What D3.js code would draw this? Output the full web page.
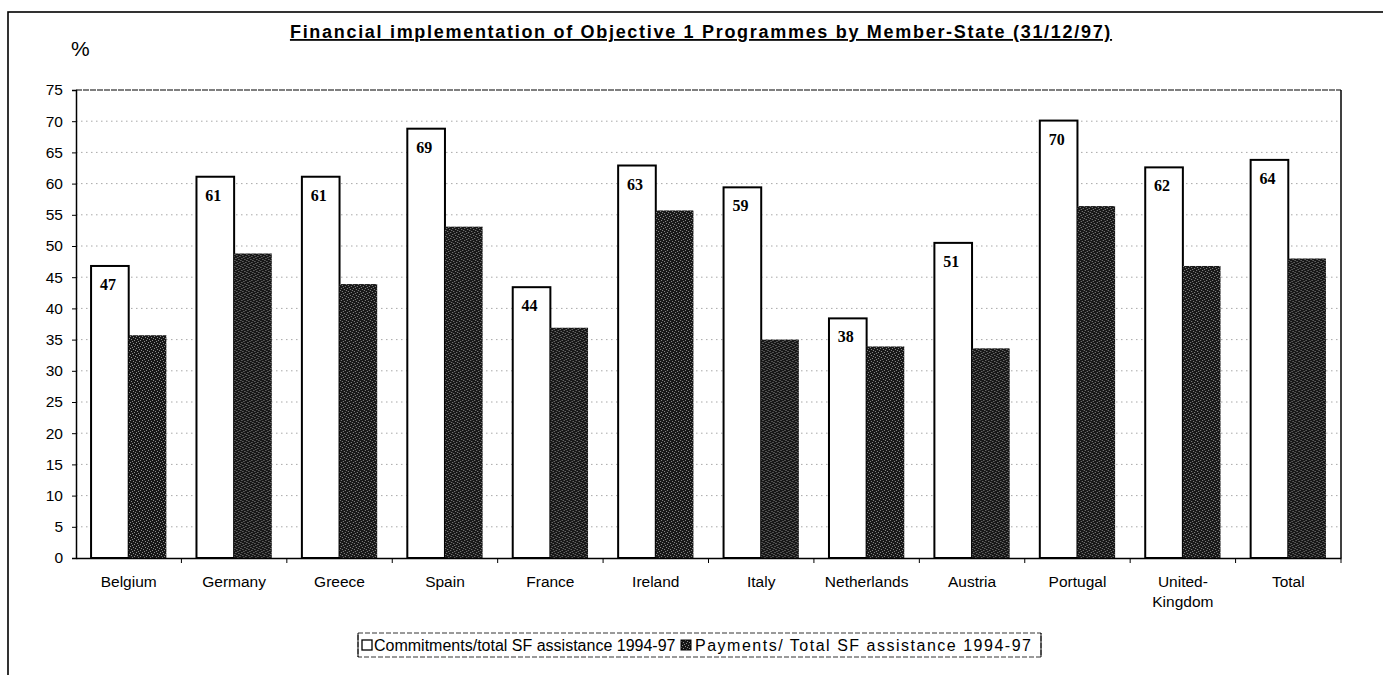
<!DOCTYPE html>
<html>
<head>
<meta charset="utf-8">
<script src="https://cdn.jsdelivr.net/npm/d3@7"></script>
<style>
  body { margin: 0; background: #fff; }
  svg { display: block; font-family: "Liberation Sans", Arial, sans-serif; }
  .grid line { stroke: #a8a8a8; stroke-width: 1; stroke-dasharray: 1.5,3.5; }
  .axis text { font-size: 15.5px; fill: #000; }
  .axis path, .axis line { stroke: #000; }
</style>
</head>
<body>
<div id="chart"></div>
<script>
/* data */
var countries = ["Belgium","Germany","Greece","Spain","France","Ireland","Italy","Netherlands","Austria","Portugal","United-Kingdom","Total"];
var commitments = [46.8, 61.1, 61.1, 68.8, 43.4, 62.9, 59.4, 38.4, 50.5, 70.1, 62.6, 63.8];
var commitLabels = ["47","61","61","69","44","63","59","38","51","70","62","64"];
var payments = [35.7, 48.8, 43.9, 53.1, 36.9, 55.7, 35.0, 33.9, 33.6, 56.4, 46.8, 48.0];
var yTicks = d3.range(0, 80, 5);
var seriesNames = ["Commitments/total SF assistance 1994-97", "Payments/ Total SF assistance 1994-97"];

var width = 1383, height = 675;
var plotLeft = 76, plotRight = 1341, plotTop = 90, plotBottom = 558;

var svg = d3.select("#chart").append("svg")
	.attr("width", width).attr("height", height);

/* speckled texture for the payments bars */
var defs = svg.append("defs");
var pat = defs.append("pattern")
	.attr("id", "speckle").attr("patternUnits", "userSpaceOnUse")
	.attr("width", 6).attr("height", 6);
pat.append("rect").attr("width", 6).attr("height", 6).attr("fill", "#171717");
[[0,0],[3,1],[1,3],[4,4],[5,2],[2,5]].forEach(function(p){
	pat.append("rect").attr("x", p[0]).attr("y", p[1]).attr("width", 1).attr("height", 1).attr("fill", "#8c8c8c");
});

/* outer frame */
svg.append("rect")
	.attr("x", 8).attr("y", 12).attr("width", 1400).attr("height", 700)
	.attr("fill", "none").attr("stroke", "#000").attr("stroke-width", 1.6);

var x0 = d3.scaleBand().domain(countries).range([plotLeft, plotRight]).padding(0);
var x1 = d3.scaleBand().domain([0, 1]).range([0, x0.bandwidth()]).paddingInner(0).paddingOuter(0.4);
var y = d3.scaleLinear().domain([0, 75]).range([plotBottom, plotTop]);

/* gridlines */
svg.append("g").attr("class", "grid")
	.selectAll("line").data(yTicks.filter(function(d){ return d > 0 && d < 75; }))
	.enter().append("line")
	.attr("x1", plotLeft).attr("x2", plotRight)
	.attr("y1", function(d){ return y(d); }).attr("y2", function(d){ return y(d); });

/* plot frame */
svg.append("line").attr("x1", plotLeft).attr("x2", plotRight).attr("y1", plotTop).attr("y2", plotTop)
	.attr("stroke", "#000").attr("stroke-width", 1.2).attr("stroke-dasharray", "6,1");
svg.append("line").attr("x1", plotRight).attr("x2", plotRight).attr("y1", plotTop).attr("y2", plotBottom)
	.attr("stroke", "#000").attr("stroke-width", 1.5);

/* bars */
var groups = svg.append("g").selectAll("g").data(countries).enter().append("g")
	.attr("transform", function(d){ return "translate(" + x0(d) + ",0)"; });

groups.append("rect")
	.attr("x", x1(0)).attr("width", x1.bandwidth())
	.attr("y", function(d, i){ return y(commitments[i]); })
	.attr("height", function(d, i){ return plotBottom - y(commitments[i]); })
	.attr("fill", "#fff").attr("stroke", "#000").attr("stroke-width", 2);

groups.append("rect")
	.attr("x", x1(1)).attr("width", x1.bandwidth())
	.attr("y", function(d, i){ return y(payments[i]); })
	.attr("height", function(d, i){ return plotBottom - y(payments[i]); })
	.attr("fill", "url(#speckle)");

groups.append("text")
	.attr("x", x1(0) + x1.bandwidth() / 2 - 2)
	.attr("y", function(d, i){ return y(commitments[i]) + 24; })
	.attr("text-anchor", "middle")
	.style("font-family", "'Liberation Serif', 'Times New Roman', serif")
	.style("font-weight", "bold").style("font-size", "16px")
	.text(function(d, i){ return commitLabels[i]; });

/* axes */
var yAxis = svg.append("g").attr("class", "axis")
	.attr("transform", "translate(" + plotLeft + ",0)")
	.call(d3.axisLeft(y).tickValues(yTicks).tickSize(4).tickPadding(9));
yAxis.select(".domain").attr("stroke-width", 1.5);

var xAxis = svg.append("g").attr("class", "axis")
	.attr("transform", "translate(0," + plotBottom + ")")
	.call(d3.axisBottom(x0).tickSize(0).tickPadding(18));
xAxis.select(".domain").attr("stroke-width", 1.5);
xAxis.selectAll(".tick text").style("font-size", "15.5px").each(function(d){
	var t = d3.select(this);
	if (d === "United-Kingdom") {
		t.text(null);
		t.append("tspan").attr("x", 0).attr("dy", "0.71em").text("United-");
		t.append("tspan").attr("x", 0).attr("dy", "1.3em").text("Kingdom");
		t.attr("dy", null);
	}
});
/* category separators on the x axis */
svg.append("g").selectAll("line").data(countries)
	.enter().append("line")
	.attr("x1", function(d){ return x0(d) + x0.step(); })
	.attr("x2", function(d){ return x0(d) + x0.step(); })
	.attr("y1", plotBottom).attr("y2", plotBottom + 5)
	.attr("stroke", "#000");

/* titles */
svg.append("text")
	.attr("x", 701).attr("y", 38).attr("text-anchor", "middle")
	.style("font-size", "18px").style("font-weight", "bold")
	.style("letter-spacing", "1.7px")
	.style("text-decoration", "underline")
	.text("Financial implementation of Objective 1 Programmes by Member-State (31/12/97)");

svg.append("text").attr("x", 71).attr("y", 56)
	.style("font-size", "21px").text("%");

/* legend */
var legend = svg.append("g").attr("transform", "translate(358,633)");
legend.append("rect").attr("width", 683).attr("height", 24)
	.attr("fill", "#fff").attr("stroke", "#000").attr("stroke-width", 0.8)
	.attr("stroke-dasharray", "5,2");
legend.append("line").attr("x1", 683).attr("x2", 683).attr("y1", 0).attr("y2", 24)
	.attr("stroke", "#000").attr("stroke-width", 1);
legend.append("line").attr("x1", 0).attr("x2", 0).attr("y1", 0).attr("y2", 24)
	.attr("stroke", "#000").attr("stroke-width", 1);
legend.append("rect").attr("x", 4).attr("y", 7).attr("width", 10).attr("height", 10)
	.attr("fill", "#fff").attr("stroke", "#000").attr("stroke-width", 1.3);
legend.append("text").attr("x", 16).attr("y", 18).style("font-size", "16px")
	.text(seriesNames[0]);
legend.append("rect").attr("x", 323).attr("y", 7).attr("width", 10).attr("height", 10)
	.attr("fill", "url(#speckle)").attr("stroke", "#000");
legend.append("text").attr("x", 337).attr("y", 18).style("font-size", "16px")
	.attr("textLength", 336).attr("lengthAdjust", "spacing")
	.text(seriesNames[1]);
</script>
</body>
</html>
